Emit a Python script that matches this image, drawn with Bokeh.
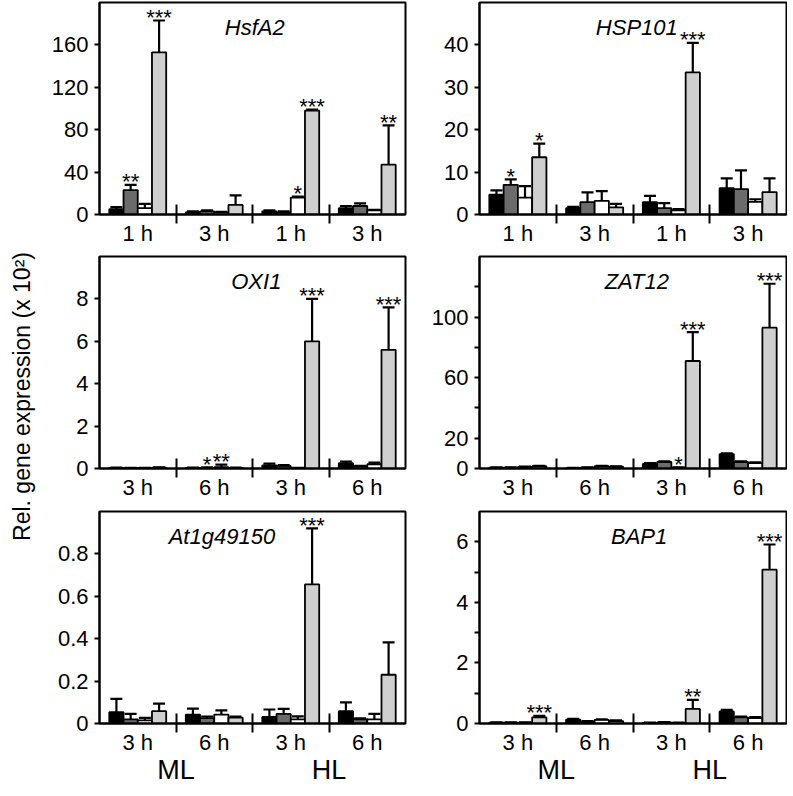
from math import pi
from bokeh.plotting import figure
from bokeh.models import FixedTicker, LinearAxis, Range1d
from bokeh.layouts import row, column
from bokeh.embed import file_html
from bokeh.resources import INLINE
from bokeh.core.properties import value

FONT = "Liberation Sans"

# ---------------- data ----------------
groups = [1, 2, 3, 4]
series_names = ["black", "dark grey", "white", "light grey"]
xlabels_row1 = ["1 h", "3 h", "1 h", "3 h"]
xlabels_row23 = ["3 h", "6 h", "3 h", "6 h"]
conditions = ["ML", "HL"]
condition_pos = [1.5, 3.5]
ytitle = "Rel. gene expression (x 10²)"

# rows = series (black, dark grey, white, light grey), columns = groups
hsfa2_mean = [[5, 2, 3, 6], [23, 3, 2, 8], [6, 2, 16, 4], [153, 9, 98, 47]]
hsfa2_err = [[2, 1, 1, 2], [5, 1, 1, 2.5], [4, 0.5, 1, 0.5], [30, 9, 1, 37]]
hsfa2_stars = [(1, 1, "**"), (1, 3, "***"), (3, 2, "*"), (3, 3, "***"), (4, 3, "**")]
hsfa2_yticks = [0, 40, 80, 120, 160]
hsfa2_ylabels = ["0", "40", "80", "120", "160"]
hsfa2_ymax = 200

hsp101_mean = [[4.7, 1.5, 2.9, 6.2], [7.0, 2.9, 1.5, 6.0], [4.0, 3.2, 1.0, 3.0], [13.5, 1.7, 33.5, 5.3]]
hsp101_err = [[1.0, 0.3, 1.5, 2.3], [1.3, 2.3, 1.2, 4.4], [2.7, 2.3, 0.3, 0.6], [3.2, 0.8, 7.0, 3.2]]
hsp101_stars = [(1, 1, "*"), (1, 3, "*"), (3, 3, "***")]
hsp101_yticks = [0, 10, 20, 30, 40]
hsp101_ylabels = ["0", "10", "20", "30", "40"]
hsp101_ymax = 50

oxi1_mean = [[0.03, 0.03, 0.15, 0.25], [0.02, 0.03, 0.12, 0.10], [0.02, 0.06, 0.02, 0.20], [0.04, 0.03, 6.0, 5.6]]
oxi1_err = [[0.01, 0.01, 0.08, 0.08], [0.01, 0.02, 0.04, 0.03], [0.01, 0.12, 0.01, 0.08], [0.01, 0.01, 2.0, 2.0]]
oxi1_stars = [(2, 1, "*"), (2, 2, "**"), (3, 3, "***"), (4, 3, "***")]
oxi1_yticks = [0, 2, 4, 6, 8]
oxi1_ylabels = ["0", "2", "4", "6", "8"]
oxi1_ymax = 10

zat12_mean = [[0.5, 0.3, 3.0, 9.5], [0.5, 0.5, 4.3, 4.3], [1.0, 1.5, 0.5, 3.5], [1.5, 1.2, 71, 93]]
zat12_err = [[0.2, 0.1, 0.5, 0.5], [0.2, 0.2, 0.5, 0.5], [0.2, 0.3, 0.2, 0.5], [0.3, 0.3, 19, 29]]
zat12_stars = [(3, 2, "*"), (3, 3, "***"), (4, 3, "***")]
zat12_yticks = [0, 20, 40, 60, 80, 100, 120]
zat12_ylabels = ["0", "20", "", "60", "", "100", ""]
zat12_ymax = 140

at1g_mean = [[0.053, 0.042, 0.031, 0.058], [0.019, 0.025, 0.045, 0.020], [0.015, 0.042, 0.019, 0.019], [0.058, 0.028, 0.656, 0.23]]
at1g_err = [[0.063, 0.028, 0.035, 0.042], [0.026, 0.008, 0.024, 0.004], [0.012, 0.020, 0.015, 0.026], [0.036, 0.004, 0.264, 0.153]]
at1g_stars = [(3, 3, "***")]
at1g_yticks = [0, 0.2, 0.4, 0.6, 0.8]
at1g_ylabels = ["0", "0.2", "0.4", "0.6", "0.8"]
at1g_ymax = 1.0

bap1_mean = [[0.03, 0.13, 0.02, 0.40], [0.03, 0.06, 0.04, 0.20], [0.03, 0.12, 0.02, 0.18], [0.20, 0.08, 0.48, 5.08]]
bap1_err = [[0.01, 0.02, 0.01, 0.05], [0.01, 0.02, 0.01, 0.03], [0.01, 0.02, 0.01, 0.03], [0.05, 0.02, 0.30, 0.83]]
bap1_stars = [(1, 3, "***"), (3, 3, "**"), (4, 3, "***")]
bap1_yticks = [0, 1, 2, 3, 4, 5, 6]
bap1_ylabels = ["0", "", "2", "", "4", "", "6"]
bap1_ymax = 7

# ---------------- style ----------------
COLORS = ["#000000", "#6b6b6b", "#ffffff", "#cfcfcf"]
BAR_W = 0.186
OFFS = [-1.5, -0.5, 0.5, 1.5]
CAP = 0.078
FRAME_H = 212
TOP_B = 2
BORDERS = [40, 41, 69]
TOTAL_H = sum(TOP_B + FRAME_H + b for b in BORDERS)


def panel(gene, mean, err, stars, ymax, yticks, ylabels, xlabels, side, bottom_border, bottom, title_x):
    is_left = side == "left"
    fw = 368 if is_left else 379
    bl = 59 if is_left else 71
    br = 3 if is_left else 1
    h = TOP_B + FRAME_H + bottom_border
    p = figure(width=fw, height=h, x_range=Range1d(0.5, 4.5), y_range=Range1d(0, ymax),
               x_axis_type=None, output_backend="svg", toolbar_location=None,
               min_border_left=bl, min_border_right=br, min_border_top=TOP_B,
               min_border_bottom=bottom_border)
    p.grid.visible = False
    p.outline_line_color = "black"
    p.outline_line_width = 2
    p.outline_line_alpha = 1.0
    p.background_fill_color = "white"
    p.border_fill_color = "white"

    ya = p.yaxis[0]
    ya.ticker = FixedTicker(ticks=yticks)
    ya.major_label_overrides = {t: l for t, l in zip(yticks, ylabels)}
    ya.axis_line_width = 2
    ya.axis_line_color = "black"
    ya.major_tick_line_width = 2
    ya.major_tick_line_color = "black"
    ya.major_tick_in = 0
    ya.major_tick_out = 5
    ya.minor_tick_line_color = None
    ya.major_label_text_font = FONT
    ya.major_label_text_font_size = "22px"
    ya.major_label_text_color = "black"
    ya.major_label_standoff = 6

    sep = LinearAxis(ticker=FixedTicker(ticks=[1.5, 2.5, 3.5]),
                     major_label_overrides={1.5: "", 2.5: "", 3.5: ""},
                     major_tick_in=10, major_tick_out=9, major_tick_line_width=2,
                     major_tick_line_color="black", axis_line_width=2, axis_line_color="black",
                     minor_tick_line_color=None, major_label_text_font_size="1px",
                     major_label_standoff=0)
    p.add_layout(sep, "below")
    lab = LinearAxis(ticker=FixedTicker(ticks=groups),
                     major_label_overrides={g: t for g, t in zip(groups, xlabels)},
                     axis_line_color=None, major_tick_line_color=None, minor_tick_line_color=None,
                     major_label_text_font=FONT, major_label_text_font_size="22px",
                     major_label_text_color="black", major_label_standoff=-9)
    p.add_layout(lab, "below")
    if bottom:
        cond = LinearAxis(ticker=FixedTicker(ticks=condition_pos),
                          major_label_overrides={c: t for c, t in zip(condition_pos, conditions)},
                          axis_line_color=None, major_tick_line_color=None, minor_tick_line_color=None,
                          major_label_text_font=FONT, major_label_text_font_size="27px",
                          major_label_text_color="black", major_label_standoff=-9)
        p.add_layout(cond, "below")

    ppu = ymax / FRAME_H
    for si in range(4):
        xs = [g + OFFS[si] * BAR_W for g in groups]
        p.vbar(x=xs, top=mean[si], bottom=0, width=BAR_W, fill_color=COLORS[si],
               line_color="black", line_width=1.8)
    for si in range(4):
        xs = [g + OFFS[si] * BAR_W for g in groups]
        hi = [m + e for m, e in zip(mean[si], err[si])]
        p.segment(x0=xs, y0=mean[si], x1=xs, y1=hi, line_color="black", line_width=2.2)
        p.segment(x0=[x - CAP for x in xs], y0=hi, x1=[x + CAP for x in xs], y1=hi,
                  line_color="black", line_width=2.2)

    sx = [g + OFFS[s] * BAR_W for g, s, t in stars]
    sy = [mean[s][g - 1] + err[s][g - 1] + 3 * ppu for g, s, t in stars]
    st = [t for g, s, t in stars]
    p.text(x=sx, y=sy, text=st, text_align="center", text_baseline="alphabetic",
           text_font=value(FONT), text_font_size="22px", text_color="black")

    p.text(x=[title_x], y=[ymax - 25 * ppu], text=[gene], text_align="center",
           text_baseline="middle", text_font=value(FONT), text_font_size="22px",
           text_font_style="italic", text_color="black")
    return p


p1 = panel("HsfA2", hsfa2_mean, hsfa2_err, hsfa2_stars, hsfa2_ymax, hsfa2_yticks, hsfa2_ylabels,
           xlabels_row1, "left", BORDERS[0], False, 2.53)
p2 = panel("HSP101", hsp101_mean, hsp101_err, hsp101_stars, hsp101_ymax, hsp101_yticks, hsp101_ylabels,
           xlabels_row1, "right", BORDERS[0], False, 2.55)
p3 = panel("OXI1", oxi1_mean, oxi1_err, oxi1_stars, oxi1_ymax, oxi1_yticks, oxi1_ylabels,
           xlabels_row23, "left", BORDERS[1], False, 2.55)
p4 = panel("ZAT12", zat12_mean, zat12_err, zat12_stars, zat12_ymax, zat12_yticks, zat12_ylabels,
           xlabels_row23, "right", BORDERS[1], False, 2.55)
p5 = panel("At1g49150", at1g_mean, at1g_err, at1g_stars, at1g_ymax, at1g_yticks, at1g_ylabels,
           xlabels_row23, "left", BORDERS[2], True, 2.1)
p6 = panel("BAP1", bap1_mean, bap1_err, bap1_stars, bap1_ymax, bap1_yticks, bap1_ylabels,
           xlabels_row23, "right", BORDERS[2], True, 2.58)

tf = figure(width=40, height=TOTAL_H, x_range=Range1d(0, 40), y_range=Range1d(0, TOTAL_H),
            x_axis_type=None, y_axis_type=None, output_backend="svg", toolbar_location=None,
            min_border=0, outline_line_color=None)
tf.text(x=[21], y=[TOTAL_H - 396], text=[ytitle], angle=pi / 2, text_align="center",
        text_baseline="middle", text_font=value(FONT), text_font_size="23px", text_color="black")

layout = row(tf, column(row(p1, p2), row(p3, p4), row(p5, p6)))

with open("out.html", "w") as f:
    f.write(file_html(layout, INLINE))
